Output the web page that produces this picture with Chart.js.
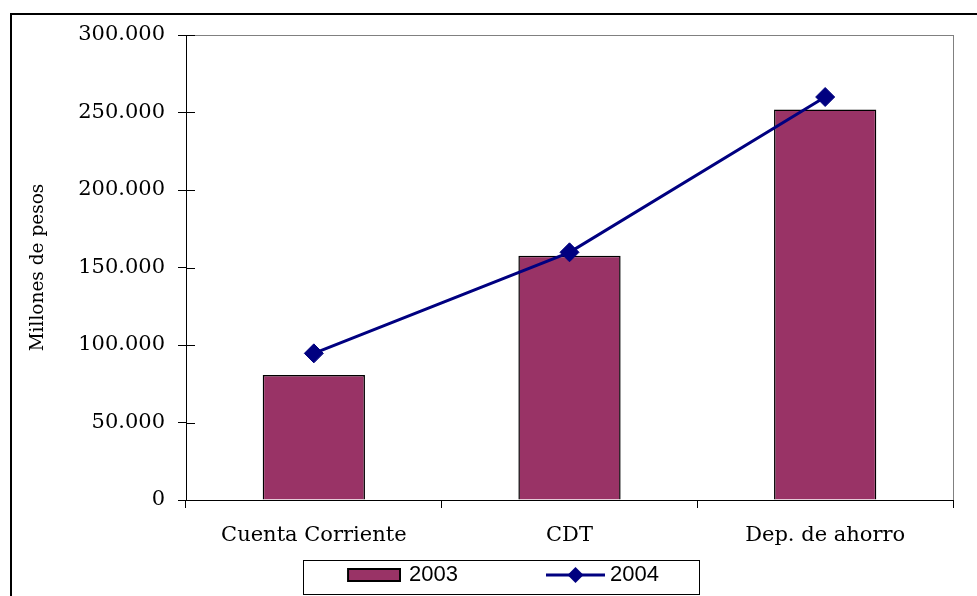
<!DOCTYPE html>
<html>
<head>
<meta charset="utf-8">
<script src="https://cdn.jsdelivr.net/npm/chart.js@4.4.1/dist/chart.umd.min.js"></script>
<style>
  html, body { margin: 0; padding: 0; background: #fff; overflow: hidden; }
  #wrap { position: relative; width: 977px; height: 596px; }
  #marco { position: absolute; left: 10px; top: 13px; width: 1000px; height: 1000px;
           border-left: 2px solid #000; border-top: 2px solid #000; }
  canvas { position: absolute; left: 0; top: 0; }
</style>
</head>
<body>
<div id="wrap">
  <div id="marco"></div>
  <canvas id="grafico" width="977" height="596"></canvas>
</div>
<script>
// Datos del grafico
const categorias = ['Cuenta Corriente', 'CDT', 'Dep. de ahorro'];
const valores2003 = [80600, 157600, 252000];
const valores2004 = [94600, 159800, 260000];
const etiquetasY = ['0', '50.000', '100.000', '150.000', '200.000', '250.000', '300.000'];
const series = ['2003', '2004'];

const colorBarra = '#993366';
const colorLinea = '#000080';
const fuenteSerif = 'DejaVu Serif';

// Simbolos de la leyenda (estilo Excel), alineados a la derecha del icono
function simboloBarra() {
    const c = document.createElement('canvas');
    c.width = 131; c.height = 20;
    const g = c.getContext('2d');
    g.fillStyle = colorBarra;
    g.fillRect(78, 4, 52, 12);
    g.strokeStyle = '#000';
    g.lineWidth = 2;
    g.strokeRect(78, 4, 52, 12);
    return c;
}

function simboloLinea() {
    const c = document.createElement('canvas');
    c.width = 137; c.height = 20;
    const g = c.getContext('2d');
    g.strokeStyle = colorLinea;
    g.lineWidth = 3;
    g.beginPath();
    g.moveTo(78, 10);
    g.lineTo(137, 10);
    g.stroke();
    const cx = 107.5, r = 8;
    g.fillStyle = colorLinea;
    g.beginPath();
    g.moveTo(cx - r, 10);
    g.lineTo(cx, 10 - r);
    g.lineTo(cx + r, 10);
    g.lineTo(cx, 10 + r);
    g.closePath();
    g.fill();
    return c;
}

// Marco del area de trazado, marcas internas del eje Y y recuadro de la leyenda
const marcoPlugin = {
    id: 'marco',
    beforeDraw(chart) {
        const { ctx, chartArea: a } = chart;
        ctx.save();
        ctx.strokeStyle = '#808080';
        ctx.lineWidth = 1;
        ctx.strokeRect(a.left + 0.5, a.top + 0.5, a.right - a.left, a.bottom - a.top);
        ctx.restore();
    },
    beforeDatasetsDraw(chart) {
        const { ctx, chartArea: a } = chart;
        const y = chart.scales.y;
        ctx.save();
        ctx.strokeStyle = '#000';
        ctx.lineWidth = 1;
        y.ticks.forEach(t => {
            const py = Math.round(y.getPixelForValue(t.value)) + 0.5;
            ctx.beginPath();
            ctx.moveTo(a.left, py);
            ctx.lineTo(a.left + 9, py);
            ctx.stroke();
        });
        ctx.restore();
    },
    afterDraw(chart) {
        const hb = chart.legend.legendHitBoxes;
        if (!hb || hb.length < 2) return;
        const { ctx } = chart;
        const left = Math.round(hb[0].left + 30) + 0.5;
        const right = Math.round(hb[1].left + hb[1].width + 40) + 0.5;
        const top = Math.round(hb[0].top - 4) + 0.5;
        const bottom = Math.round(hb[0].top + 30) + 0.5;
        ctx.save();
        ctx.strokeStyle = '#000';
        ctx.lineWidth = 1;
        ctx.strokeRect(left, top, right - left, bottom - top);
        ctx.restore();
    }
};

const ctx = document.getElementById('grafico').getContext('2d');
const iconos = [simboloBarra(), simboloLinea()];

new Chart(ctx, {
    type: 'bar',
    data: {
        labels: categorias,
        datasets: [{
            type: 'bar',
            label: series[0],
            data: valores2003,
            backgroundColor: colorBarra,
            borderColor: '#000',
            borderWidth: 1.5,
            barPercentage: 0.4,
            categoryPercentage: 1,
            order: 1
        }, {
            type: 'line',
            label: series[1],
            data: valores2004,
            borderColor: colorLinea,
            backgroundColor: colorLinea,
            borderWidth: 3,
            pointStyle: 'rectRot',
            pointRadius: 9.5,
            pointBackgroundColor: colorLinea,
            pointBorderColor: colorLinea,
            pointBorderWidth: 1,
            tension: 0,
            order: 0
        }]
    },
    options: {
        responsive: false,
        animation: false,
        devicePixelRatio: 1,
        layout: { padding: { left: -21, top: 35, right: 24, bottom: 0 } },
        plugins: {
            tooltip: { enabled: false },
            legend: {
                position: 'bottom',
                labels: {
                    usePointStyle: true,
                    pointStyleWidth: 125,
                    padding: 16,
                    color: '#000',
                    font: { family: 'Liberation Sans', size: 22 },
                    sort: (a, b) => a.datasetIndex - b.datasetIndex,
                    generateLabels: (chart) => chart.data.datasets.map((ds, i) => ({
                        text: ds.label,
                        datasetIndex: i,
                        pointStyle: iconos[i],
                        fillStyle: 'transparent',
                        strokeStyle: 'transparent',
                        lineWidth: 0,
                        hidden: false,
                        fontColor: '#000'
                    }))
                }
            }
        },
        scales: {
            x: {
                grid: {
                    offset: true,
                    drawOnChartArea: false,
                    drawTicks: true,
                    tickLength: 8,
                    color: '#000'
                },
                border: { display: true, color: '#000', width: 1 },
                ticks: {
                    color: '#000',
                    padding: 15,
                    maxRotation: 0,
                    font: { family: fuenteSerif, size: 21 }
                },
                afterFit: (scale) => { scale.height = 48; }
            },
            y: {
                min: 0,
                max: 300000,
                grid: {
                    drawOnChartArea: false,
                    drawTicks: true,
                    tickLength: 8,
                    color: '#000'
                },
                border: { display: true, color: '#000', width: 1 },
                ticks: {
                    stepSize: 50000,
                    color: '#000',
                    padding: 13,
                    font: { family: fuenteSerif, size: 21 },
                    callback: (v, i) => etiquetasY[i]
                },
                title: {
                    display: true,
                    text: 'Millones de pesos',
                    color: '#000',
                    font: { family: fuenteSerif, size: 18.5 },
                    padding: { top: 48, bottom: 0 }
                },
                afterFit: (scale) => { scale.width = 207; }
            }
        }
    },
    plugins: [marcoPlugin]
});
</script>
</body>
</html>
